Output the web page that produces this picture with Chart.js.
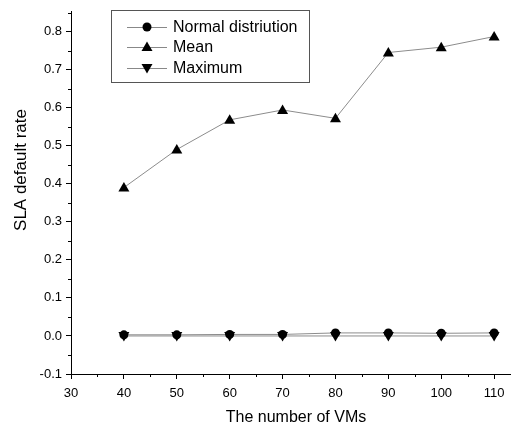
<!DOCTYPE html>
<html>
<head>
<meta charset="utf-8">
<script src="https://cdn.jsdelivr.net/npm/chart.js@4.4.0/dist/chart.umd.min.js"></script>
<style>
  html, body { margin: 0; padding: 0; background: #fff; }
  #wrap { width: 514px; height: 430px; }
</style>
</head>
<body>
<div id="wrap"><canvas id="slaChart" width="514" height="430"></canvas></div>
<script>
// --- DADOS ---
const vms = [40, 50, 60, 70, 80, 90, 100, 110];
const normalRate = [0.003, 0.003, 0.004, 0.004, 0.008, 0.008, 0.007, 0.008];
const meanRate = [0.39, 0.49, 0.568, 0.594, 0.572, 0.745, 0.759, 0.787];
const maxRate = [0.0, 0.0, 0.0, 0.0, 0.0, 0.0, 0.0, 0.0];
const xTicks = [30, 40, 50, 60, 70, 80, 90, 100, 110];
const yTicks = [-0.1, 0.0, 0.1, 0.2, 0.3, 0.4, 0.5, 0.6, 0.7, 0.8];
const seriesNames = ['Normal distriution', 'Mean', 'Maximum'];

const FONT = 'Arial, "Liberation Sans", sans-serif';

function pts(values) {
    return vms.map((v, i) => ({ x: v, y: values[i] }));
}

// marcador (círculo / triângulo / triângulo invertido)
function drawMarker(ctx, kind, x, y) {
    ctx.save();
    ctx.fillStyle = '#000';
    ctx.beginPath();
    if (kind === 'circle') {
        ctx.arc(x, y, 4.5, 0, Math.PI * 2);
    } else if (kind === 'up') {
        ctx.moveTo(x, y - 5.5);
        ctx.lineTo(x + 5.5, y + 4);
        ctx.lineTo(x - 5.5, y + 4);
    } else {
        ctx.moveTo(x, y + 5.5);
        ctx.lineTo(x + 5.5, y - 4);
        ctx.lineTo(x - 5.5, y - 4);
    }
    ctx.closePath();
    ctx.fill();
    ctx.restore();
}

const markerKinds = ['circle', 'up', 'down'];

// plugin: marcadores, ticks menores, legenda e títulos dos eixos
const extras = {
    id: 'extras',
    afterDatasetsDraw(chart) {
        const ctx = chart.ctx;
        chart.data.datasets.forEach((ds, i) => {
            const meta = chart.getDatasetMeta(i);
            meta.data.forEach(p => drawMarker(ctx, markerKinds[i], p.x, p.y));
        });
    },
    afterDraw(chart) {
        const ctx = chart.ctx;
        const xs = chart.scales.x, ys = chart.scales.y;
        const area = chart.chartArea;
        ctx.save();
        ctx.strokeStyle = '#000';
        ctx.lineWidth = 1;
        // ticks menores
        ctx.beginPath();
        for (let v = 35; v < 113; v += 10) {
            const px = Math.round(xs.getPixelForValue(v)) + 0.5;
            ctx.moveTo(px, area.bottom);
            ctx.lineTo(px, area.bottom + 3);
        }
        for (let k = 0; k < 10; k++) {
            const v = -0.05 + k * 0.1;
            const py = Math.round(ys.getPixelForValue(v)) + 0.5;
            ctx.moveTo(area.left, py);
            ctx.lineTo(area.left - 3, py);
        }
        ctx.stroke();

        // legenda
        ctx.strokeStyle = '#555';
        ctx.strokeRect(111.5, 10.5, 198, 72);
        const rows = [27, 47, 68];
        ctx.font = '16px ' + FONT;
        ctx.textBaseline = 'middle';
        rows.forEach((ry, i) => {
            ctx.strokeStyle = '#888';
            ctx.beginPath();
            ctx.moveTo(127, ry + 0.5);
            ctx.lineTo(167, ry + 0.5);
            ctx.stroke();
            drawMarker(ctx, markerKinds[i], 147, ry);
            ctx.fillStyle = '#000';
            ctx.fillText(seriesNames[i], 173, ry + 1);
        });

        // títulos
        ctx.fillStyle = '#000';
        ctx.font = '16px ' + FONT;
        ctx.textAlign = 'center';
        ctx.fillText('The number of VMs', 296, 418);
        ctx.translate(21, 170);
        ctx.rotate(-Math.PI / 2);
        ctx.font = '17px ' + FONT;
        ctx.fillText('SLA default rate', 0, 0);
        ctx.restore();
    }
};

const lineStyle = {
    borderColor: '#8c8c8c',
    borderWidth: 1,
    pointRadius: 0,
    pointHoverRadius: 0,
    tension: 0,
    fill: false
};

const ctx = document.getElementById('slaChart').getContext('2d');
new Chart(ctx, {
    type: 'line',
    data: {
        datasets: [
            Object.assign({ label: seriesNames[0], data: pts(normalRate) }, lineStyle),
            Object.assign({ label: seriesNames[1], data: pts(meanRate) }, lineStyle),
            Object.assign({ label: seriesNames[2], data: pts(maxRate) }, lineStyle)
        ]
    },
    options: {
        responsive: false,
        animation: false,
        events: [],
        layout: { padding: { top: 8, right: 4, left: 0, bottom: 0 } },
        plugins: { legend: { display: false }, tooltip: { enabled: false } },
        scales: {
            x: {
                type: 'linear',
                min: 30,
                max: 113,
                afterFit(s) { s.height = 56; },
                afterBuildTicks(s) { s.ticks = xTicks.map(v => ({ value: v })); },
                ticks: { color: '#000', font: { size: 13, family: FONT }, padding: 7, maxRotation: 0 },
                grid: { drawOnChartArea: false, drawTicks: true, tickLength: 5, color: '#000' },
                border: { display: true, color: '#000', width: 1 }
            },
            y: {
                type: 'linear',
                min: -0.1,
                max: 0.852,
                afterFit(s) { s.width = 71; },
                afterBuildTicks(s) { s.ticks = yTicks.map(v => ({ value: v })); },
                ticks: { color: '#000', font: { size: 13, family: FONT }, padding: 4,
                    callback: v => v.toFixed(1) },
                grid: { drawOnChartArea: false, drawTicks: true, tickLength: 5, color: '#000' },
                border: { display: true, color: '#000', width: 1 }
            }
        }
    },
    plugins: [extras]
});
</script>
</body>
</html>
